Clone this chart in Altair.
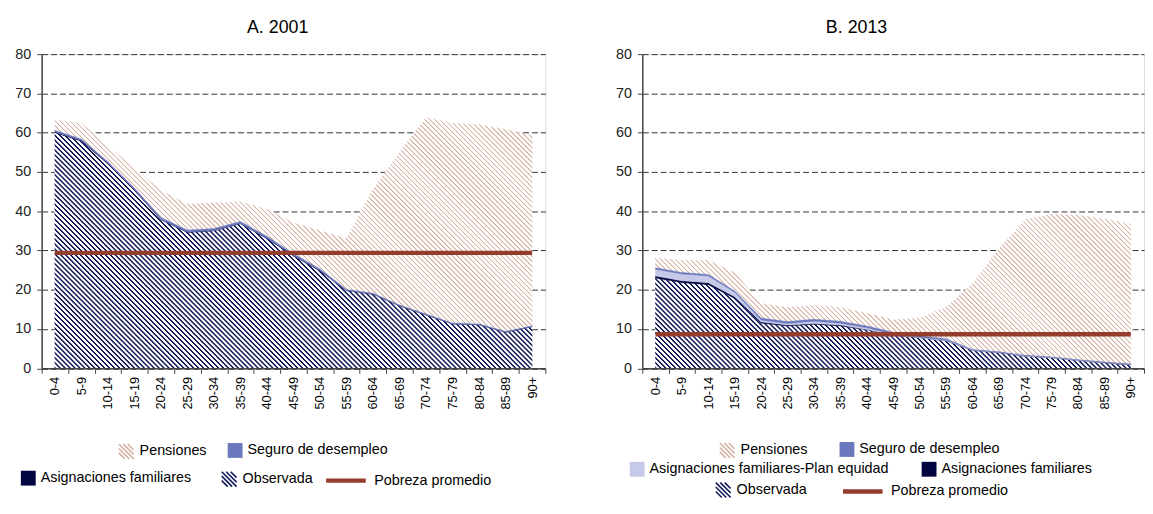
import math
import altair as alt
import pandas as pd

# ---------------- data ----------------
ages = ["0-4", "5-9", "10-14", "15-19", "20-24", "25-29", "30-34", "35-39",
        "40-44", "45-49", "50-54", "55-59", "60-64", "65-69", "70-74",
        "75-79", "80-84", "85-89", "90+"]

observada_2001 = [60.0, 57.8, 52.0, 45.3, 37.8, 34.6, 35.0, 36.8, 33.0, 28.6,
                  24.8, 19.8, 18.9, 15.9, 13.6, 11.3, 11.1, 9.2, 10.6]
asignaciones_2001 = [0.2, 0.2, 0.2, 0.2, 0.1, 0.1, 0.1, 0.1, 0.1, 0.1,
                     0.1, 0.0, 0.0, 0.0, 0.0, 0.0, 0.0, 0.0, 0.0]
seguro_2001 = [0.4, 0.4, 0.4, 0.4, 0.5, 0.5, 0.5, 0.5, 0.5, 0.5,
               0.4, 0.3, 0.2, 0.2, 0.2, 0.2, 0.2, 0.2, 0.2]
pensiones_2001 = [2.6, 4.0, 3.9, 5.1, 6.8, 6.6, 6.5, 5.0, 6.9, 7.8,
                  9.7, 12.9, 26.4, 38.9, 50.0, 50.9, 50.7, 51.4, 48.4]
pobreza_2001 = 29.4

observada_2013 = [23.0, 21.8, 21.3, 17.8, 11.5, 10.8, 11.2, 10.8, 9.8, 8.4,
                  7.8, 7.0, 4.6, 4.0, 3.1, 2.7, 2.0, 1.4, 0.9]
asignaciones_2013 = [0.5, 0.5, 0.5, 0.4, 0.3, 0.2, 0.2, 0.2, 0.1, 0.1,
                     0.0, 0.0, 0.0, 0.0, 0.0, 0.0, 0.0, 0.0, 0.0]
plan_equidad_2013 = [1.7, 1.7, 1.7, 1.2, 0.5, 0.4, 0.6, 0.5, 0.4, 0.2,
                     0.1, 0.2, 0.1, 0.1, 0.1, 0.1, 0.1, 0.1, 0.1]
seguro_2013 = [0.4, 0.4, 0.4, 0.3, 0.5, 0.5, 0.5, 0.5, 0.5, 0.5,
               0.4, 0.3, 0.1, 0.1, 0.1, 0.1, 0.1, 0.1, 0.1]
pensiones_2013 = [2.5, 3.1, 3.6, 4.6, 3.7, 3.6, 3.5, 3.5, 3.2, 3.1,
                  4.5, 8.0, 16.7, 26.2, 34.5, 36.3, 36.8, 36.4, 35.6]
pobreza_2013 = 8.7

y_ticks = [0, 10, 20, 30, 40, 50, 60, 70, 80]

# ---------------- styles / layout ----------------
FONT = "Liberation Sans"
NAVY = "#141a5c"
DARKNAVY = "#02053f"
BLUE = "#6a79bd"
LAVENDER = "#c6c9e8"
BEIGE = "#d6b2a3"
BROWN = "#953d2d"
AXIS = "#444444"

PLOT_H = 317.5
Y_MAX = 80
PPU = PLOT_H / Y_MAX
PLOT_TOP_PAGE = 53.5
LABEL_FS = 14.5
PERIOD = 5.0      # horizontal stripe spacing in px
N_PER = 64        # stripes per gradient

# stripe profile inside one period: (rise end, core end, fall end)
STYLE = {
    "Observada": ("hatch", NAVY, (0.15, 0.42, 0.57)),
    "Asignaciones familiares": ("solid", DARKNAVY, None),
    "Asignaciones familiares-Plan equidad": ("solid", LAVENDER, None),
    "Seguro de desempleo": ("solid", BLUE, None),
    "Pensiones": ("hatch", BEIGE, (0.14, 0.30, 0.44)),
}


def seg_gradient(color, bx0, W, by0, by1, prof):
    """Diagonal (\\) stripes drawn as a linear gradient whose phase is tied to
    the plot, so that neighbouring segments join seamlessly."""
    H = by1 - by0
    G = N_PER * PERIOD
    g0 = PERIOD * math.floor((bx0 - by1) / PERIOD)
    a = G / (W * W + H * H)
    y1 = (bx0 - by0 - g0) / H
    r1, r2, r3 = prof
    stops = []
    for k in range(N_PER):
        stops += [{"offset": round(k / N_PER, 6), "color": "white"},
                  {"offset": round((k + r1) / N_PER, 6), "color": color},
                  {"offset": round((k + r2) / N_PER, 6), "color": color},
                  {"offset": round((k + r3) / N_PER, 6), "color": "white"}]
    stops.append({"offset": 1, "color": "white"})
    return {"gradient": "linear", "x1": 0, "y1": round(y1, 6),
            "x2": round(a * W, 6), "y2": round(y1 - a * H, 6), "stops": stops}


def hatch_path():
    parts = []
    for c in [-1.2, -0.6, 0.0, 0.6, 1.2]:
        xa = max(-1.0, c - 1.0)
        xb = min(1.0, c + 1.0)
        parts.append(f"M{xa:.2f},{xa - c:.2f}L{xb:.2f},{xb - c:.2f}")
    return "".join(parts)


HATCH = hatch_path()


def legend_layer(name, page_x, row_y, plot_left_page):
    df = pd.DataFrame({"serie": [name]})
    if name in ("Pensiones", "Observada"):
        color = BEIGE if name == "Pensiones" else NAVY
        sym, size, sw, h, lo = HATCH, 225, 1.6, 15, 5
        base = alt.Chart(df).transform_filter("false").mark_point(filled=False, opacity=1)
        chan = alt.Stroke
    elif name == "Pobreza promedio":
        color = BROWN
        sym, size, sw, h, lo = "stroke", 1600, 4.5, 40, 6
        base = alt.Chart(df).transform_filter("false").mark_point(filled=False, opacity=1)
        chan = alt.Stroke
    else:
        color = STYLE[name][1]
        sym, size, sw, h, lo = "square", 225, 0, 15, 5
        base = alt.Chart(df).transform_filter("false").mark_point(filled=True, shape="square", opacity=1)
        chan = alt.Color
    leg = alt.Legend(orient="none", legendX=page_x - plot_left_page,
                     legendY=row_y - max(h, LABEL_FS) / 2 - PLOT_TOP_PAGE + 4,
                     title=None, padding=0, symbolType=sym, symbolSize=size,
                     symbolStrokeWidth=sw, labelFont=FONT, labelFontSize=LABEL_FS,
                     labelColor="black", labelOffset=lo, labelLimit=400)
    return base.encode(**{chan.__name__.lower(): chan("serie:N", scale=alt.Scale(domain=[name], range=[color]), legend=leg)})


def panel(title, series, pobreza, width, plot_left_page, legend_items, title_dx):
    n = len(ages)
    step = width / n
    x_axis = alt.Axis(labelAngle=-90, tickBand="extent", labelFont=FONT, labelFontSize=13,
                      labelColor="black", labelPadding=3, tickSize=5, tickColor=AXIS,
                      domainColor=AXIS, domainWidth=1.5, grid=False, title=None, zindex=1)
    y_axis = alt.Axis(values=y_ticks, labelFont=FONT, labelFontSize=14.5, labelColor="#222222",
                      labelPadding=6, tickSize=5, tickColor=AXIS, domainColor=AXIS,
                      domainWidth=1.5, grid=True, gridDash=[6, 3], gridColor="#333333",
                      gridWidth=1, title=None)
    x_enc = alt.X("age:N", sort=ages, bandPosition=0.5,
                  scale=alt.Scale(type="band", domain=ages, paddingInner=0, paddingOuter=0),
                  axis=x_axis)
    y_enc = alt.Y("y1:Q", scale=alt.Scale(domain=[0, Y_MAX], nice=False), axis=y_axis)

    hatch_layers, solid_layers = [], []
    base = [0.0] * n
    for name, vals in series:
        top = [round(b + v, 3) for b, v in zip(base, vals)]
        kind, color, prof = STYLE[name]
        if kind == "hatch":
            for i in range(n - 1):
                lo_v = min(base[i], base[i + 1])
                hi_v = max(top[i], top[i + 1])
                by0 = PLOT_H * (1 - hi_v / Y_MAX)
                by1 = PLOT_H * (1 - lo_v / Y_MAX)
                if by1 - by0 < 0.05:
                    continue
                grad = seg_gradient(color, (i + 0.5) * step, step, by0, by1, prof)
                df = pd.DataFrame({"age": ages[i:i + 2], "y0": base[i:i + 2], "y1": top[i:i + 2]})
                hatch_layers.append(
                    alt.Chart(df).mark_area(fill=grad, stroke=grad, strokeWidth=0.6,
                                            interpolate="linear")
                    .encode(x=x_enc, y=y_enc, y2="y0:Q"))
        else:
            df = pd.DataFrame({"age": ages, "y0": base, "y1": top})
            solid_layers.append(
                alt.Chart(df).mark_area(fill=color, stroke=color, strokeWidth=0.4,
                                        interpolate="linear")
                .encode(x=x_enc, y=y_enc, y2="y0:Q"))
        base = top
    layers = hatch_layers + solid_layers
    pob_df = pd.DataFrame({"age": ages, "y1": [pobreza] * n})
    layers.append(alt.Chart(pob_df).mark_line(color=BROWN, strokeWidth=4.5, strokeCap="butt")
                  .encode(x=x_enc, y=y_enc))
    for name, px, py in legend_items:
        layers.append(legend_layer(name, px, py, plot_left_page))
    return alt.layer(*layers).resolve_scale(
        color="independent", stroke="independent"
    ).resolve_legend(color="independent", stroke="independent").properties(
        width=width, height=PLOT_H,
        title=alt.TitleParams(title, font=FONT, fontSize=18, fontWeight="normal", color="black",
                              anchor="middle", frame="group", baseline="alphabetic",
                              offset=-5, dx=title_dx))


left = panel("A. 2001",
             [("Observada", observada_2001), ("Asignaciones familiares", asignaciones_2001),
              ("Seguro de desempleo", seguro_2001), ("Pensiones", pensiones_2001)],
             pobreza_2001, 509, 41,
             [("Pensiones", 118, 450), ("Seguro de desempleo", 229, 450),
              ("Asignaciones familiares", 20, 478), ("Observada", 222, 478),
              ("Pobreza promedio", 326, 478)], -16)

right = panel("B. 2013",
              [("Observada", observada_2013), ("Asignaciones familiares", asignaciones_2013),
               ("Asignaciones familiares-Plan equidad", plan_equidad_2013),
               ("Seguro de desempleo", seguro_2013), ("Pensiones", pensiones_2013)],
              pobreza_2013, 507, 645.7,
              [("Pensiones", 723, 449), ("Seguro de desempleo", 845, 449),
               ("Asignaciones familiares-Plan equidad", 633, 469),
               ("Asignaciones familiares", 928, 469),
               ("Observada", 719, 489), ("Pobreza promedio", 846, 489)], -37)

chart = alt.hconcat(left, right, spacing=69).resolve_scale(
    color="independent", stroke="independent"
).resolve_legend(color="independent", stroke="independent").properties(
    padding={"left": 6, "top": 8, "right": 0, "bottom": 0}
).configure_view(stroke=None).configure(font=FONT, background="white")

chart.save("out.html", embed_options={"renderer": "svg", "actions": False})
